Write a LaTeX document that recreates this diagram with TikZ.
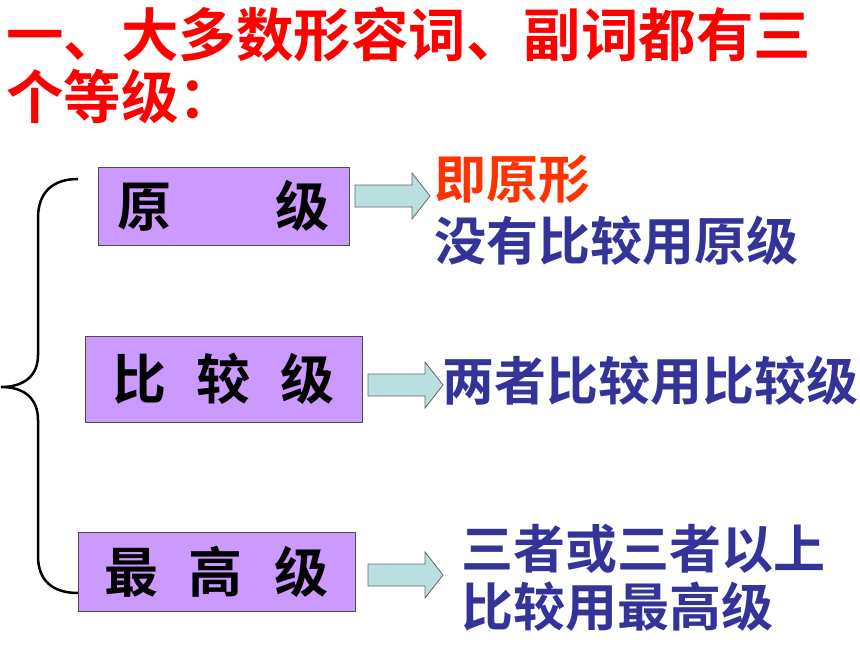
\documentclass[tikz,border=0pt]{standalone}
\usepackage{fontspec}
\setmainfont{Noto Sans CJK SC}[BoldFont={Noto Sans CJK SC Bold}]
\usepackage{tikz}
\usetikzlibrary{positioning}
\usetikzlibrary{calc}
\definecolor{boxviolet}{HTML}{CC99FF}
\definecolor{arrowcyan}{HTML}{B9DFE1}
\definecolor{textblue}{HTML}{333399}
\definecolor{textred}{HTML}{FF3300}
\newcommand{\titlefont}{\fontsize{57.5pt}{62pt}\selectfont\bfseries}
\newcommand{\levelfont}{\fontsize{54pt}{60pt}\selectfont\bfseries}
\newcommand{\notefont}{\fontsize{52pt}{58pt}\selectfont\bfseries}
\tikzset{every picture/.style={x=1pt,y=-1pt},
levelbox/.style={draw=black!70,line width=1pt,fill=boxviolet,inner sep=0pt,font=\levelfont},
blockarrow/.style={draw=black!60,line width=0.8pt,fill=arrowcyan},
note/.style={anchor=base west,inner sep=0pt,text=textblue,font=\notefont}}

\begin{document}
\begin{tikzpicture}
\useasboundingbox (0,0) rectangle (860,645);
\node (t1) at (6,56) [anchor=base west,inner sep=0pt,text=red,font=\titlefont] {一、大多数形容词、副词都有三};
\node (t2) at (6,118) [anchor=base west,inner sep=0pt,text=red,font=\titlefont] {个等级：};
\node (b1) at (223.5,206) [levelbox,minimum width=251pt,minimum height=78pt] {原\hspace{104pt}级};
\node (b2) at (223.5,379) [levelbox,minimum width=277pt,minimum height=86pt] {比\hspace{30pt}较\hspace{30pt}级};
\node (b3) at (216.5,571.5) [levelbox,minimum width=277pt,minimum height=79pt] {最\hspace{30pt}高\hspace{32pt}级};
\coordinate (top) at (78,179);
\coordinate (mid) at (1,387);
\coordinate (bot) at (78,593);
\draw[line width=2.5pt] (top) .. controls (52,179) and (38,193) .. (38,218) -- (38,355) .. controls (38,375) and (25,387) .. (mid) .. controls (25,387) and (38,399) .. (38,420) -- (38,556) .. controls (38,580) and (52,593) .. (bot);
\foreach \i/\x/\y in {1/355/196, 2/368/385, 3/368/575} {
\coordinate (a\i) at (\x,\y);
\draw[blockarrow] (a\i) ++(0,-11) -- ++(57,0) -- ++(0,-12) -- ++(18,23) -- ++(-18,23) -- ++(0,-12) -- ++(-57,0) -- cycle;
}
\node (n1) at (434,198) [note,text=textred] {即原形};
\node (n2) at (434,260) [note] {没有比较用原级};
\node (n3) at (442,400) [note] {两者比较用比较级};
\node (n4) at (461,568) [note] {三者或三者以上};
\node (n5) at (461,626) [note] {比较用最高级};
\end{tikzpicture}
\end{document}
